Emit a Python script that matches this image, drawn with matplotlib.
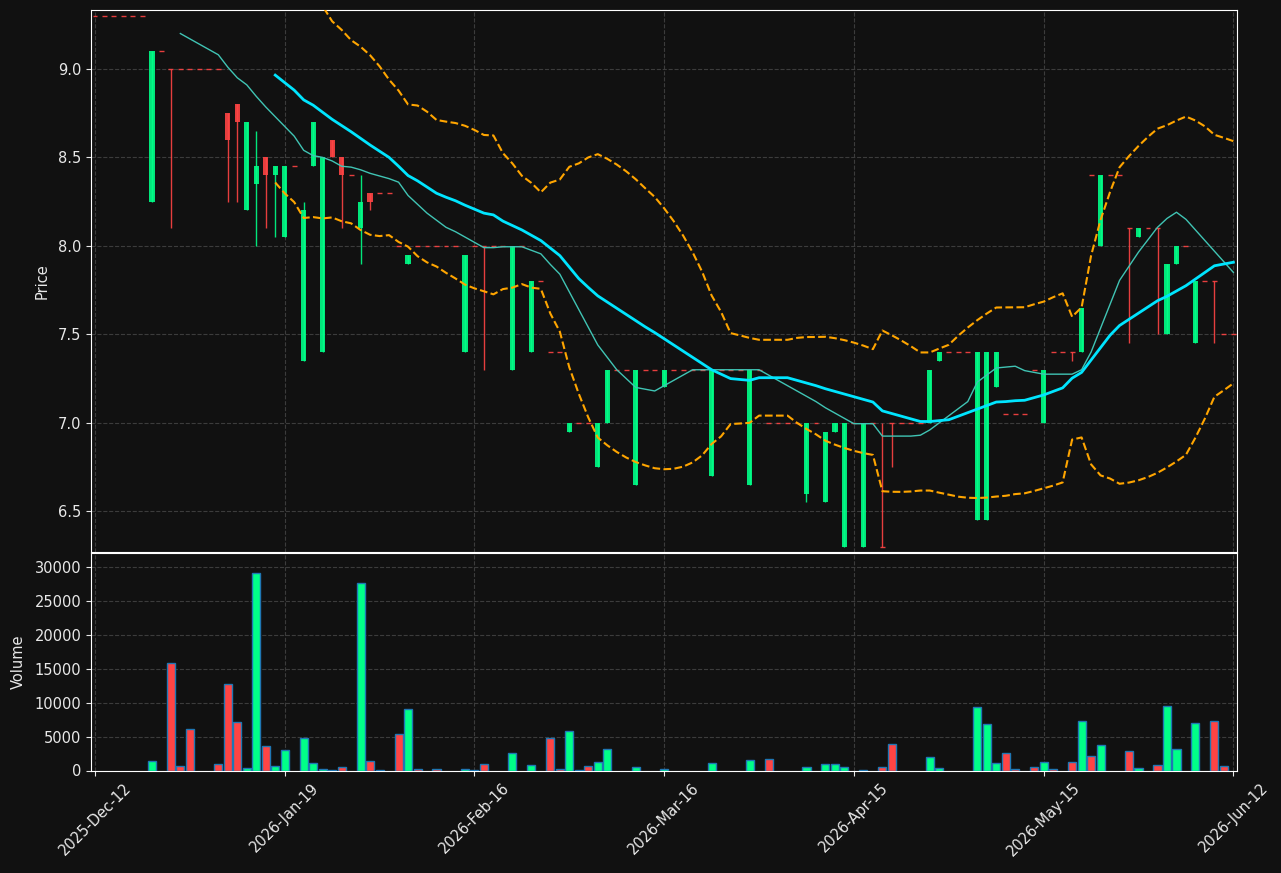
import numpy as np
import pandas as pd
import matplotlib
matplotlib.use("Agg")
import matplotlib.pyplot as plt

# daily OHLC (index = trading day)
opens = [9.30, 9.30, 9.30, 9.30, 9.30, 9.30, 8.25, 9.10, 9.00, 9.00,
         9.00, 9.00, 9.00, 9.00, 8.75, 8.80, 8.20, 8.35, 8.50, 8.40,
         8.05, 8.45, 7.35, 8.45, 7.40, 8.60, 8.50, 8.40, 8.10, 8.30,
         8.30, 8.30, 8.00, 7.90, 8.00, 8.00, 8.00, 8.00, 8.00, 7.40,
         8.00, 8.00, 8.00, 8.00, 7.30, 8.00, 7.40, 7.80, 7.40, 7.40,
         6.95, 7.00, 7.00, 6.75, 7.00, 7.30, 7.30, 6.65, 7.30, 7.30,
         7.20, 7.30, 7.30, 7.30, 7.30, 6.70, 7.30, 7.30, 7.30, 6.65,
         7.30, 7.00, 7.00, 7.00, 7.00, 6.60, 7.00, 6.55, 6.95, 6.30,
         7.00, 6.30, 7.00, 6.30, 7.00, 7.00, 7.00, 7.00, 7.00, 7.35,
         7.40, 7.40, 7.40, 6.45, 6.45, 7.20, 7.05, 7.05, 7.05, 7.30,
         7.00, 7.40, 7.40, 7.40, 7.40, 8.40, 8.00, 8.40, 8.40, 8.10,
         8.05, 8.10, 8.10, 7.50, 7.90, 8.00, 7.45, 7.80, 7.80, 7.50,
         7.50]
highs = [9.30, 9.30, 9.30, 9.30, 9.30, 9.30, 9.10, 9.10, 9.00, 9.00,
         9.00, 9.00, 9.00, 9.00, 8.75, 8.80, 8.70, 8.65, 8.50, 8.45,
         8.45, 8.45, 8.25, 8.70, 8.50, 8.60, 8.50, 8.40, 8.40, 8.30,
         8.30, 8.30, 8.00, 7.95, 8.00, 8.00, 8.00, 8.00, 8.00, 7.95,
         8.00, 8.00, 8.00, 8.00, 8.00, 8.00, 7.80, 7.80, 7.40, 7.40,
         7.00, 7.00, 7.00, 7.00, 7.30, 7.30, 7.30, 7.30, 7.30, 7.30,
         7.30, 7.30, 7.30, 7.30, 7.30, 7.30, 7.30, 7.30, 7.30, 7.30,
         7.30, 7.00, 7.00, 7.00, 7.00, 7.00, 7.00, 6.95, 7.00, 7.00,
         7.00, 7.00, 7.00, 7.00, 7.00, 7.00, 7.00, 7.00, 7.30, 7.40,
         7.40, 7.40, 7.40, 7.40, 7.40, 7.40, 7.05, 7.05, 7.05, 7.30,
         7.30, 7.40, 7.40, 7.40, 7.65, 8.40, 8.40, 8.40, 8.40, 8.10,
         8.10, 8.10, 8.10, 7.90, 8.00, 8.00, 7.80, 7.80, 7.80, 7.50,
         7.50]
lows = [9.30, 9.30, 9.30, 9.30, 9.30, 9.30, 8.25, 9.10, 8.10, 9.00,
        9.00, 9.00, 9.00, 9.00, 8.25, 8.25, 8.20, 8.00, 8.10, 8.05,
        8.05, 8.45, 7.35, 8.45, 7.40, 8.50, 8.10, 8.40, 7.90, 8.20,
        8.30, 8.30, 8.00, 7.90, 8.00, 8.00, 8.00, 8.00, 8.00, 7.40,
        8.00, 7.30, 8.00, 8.00, 7.30, 8.00, 7.40, 7.80, 7.40, 7.40,
        6.95, 7.00, 7.00, 6.75, 7.00, 7.30, 7.30, 6.65, 7.30, 7.30,
        7.20, 7.30, 7.30, 7.30, 7.30, 6.70, 7.30, 7.30, 7.30, 6.65,
        7.30, 7.00, 7.00, 7.00, 7.00, 6.55, 7.00, 6.55, 6.95, 6.30,
        7.00, 6.30, 7.00, 6.30, 6.75, 7.00, 7.00, 7.00, 7.00, 7.35,
        7.40, 7.40, 7.40, 6.45, 6.45, 7.20, 7.05, 7.05, 7.05, 7.30,
        7.00, 7.40, 7.40, 7.35, 7.40, 8.40, 8.00, 8.40, 8.40, 7.45,
        8.05, 8.10, 7.50, 7.50, 7.90, 8.00, 7.45, 7.80, 7.45, 7.50,
        7.50]
closes = [9.30, 9.30, 9.30, 9.30, 9.30, 9.30, 9.10, 9.10, 9.00, 9.00,
          9.00, 9.00, 9.00, 9.00, 8.60, 8.70, 8.70, 8.45, 8.40, 8.45,
          8.45, 8.45, 8.20, 8.70, 8.50, 8.50, 8.40, 8.40, 8.25, 8.25,
          8.30, 8.30, 8.00, 7.95, 8.00, 8.00, 8.00, 8.00, 8.00, 7.95,
          8.00, 8.00, 8.00, 8.00, 8.00, 8.00, 7.80, 7.80, 7.40, 7.40,
          7.00, 7.00, 7.00, 7.00, 7.30, 7.30, 7.30, 7.30, 7.30, 7.30,
          7.30, 7.30, 7.30, 7.30, 7.30, 7.30, 7.30, 7.30, 7.30, 7.30,
          7.30, 7.00, 7.00, 7.00, 7.00, 7.00, 7.00, 6.95, 7.00, 7.00,
          7.00, 7.00, 7.00, 6.30, 7.00, 7.00, 7.00, 7.00, 7.30, 7.40,
          7.40, 7.40, 7.40, 7.40, 7.40, 7.40, 7.05, 7.05, 7.05, 7.30,
          7.30, 7.40, 7.40, 7.40, 7.65, 8.40, 8.40, 8.40, 8.40, 8.10,
          8.10, 8.10, 8.10, 7.90, 8.00, 8.00, 7.80, 7.80, 7.80, 7.50,
          7.50]
volumes = [0, 0, 0, 0, 0, 0, 1400, 0, 15900, 650,
           6100, 0, 0, 950, 12800, 7150, 350, 29100, 3600, 650,
           3000, 0, 4800, 1100, 200, 100, 500, 0, 27600, 1400,
           80, 0, 5400, 9100, 200, 0, 200, 0, 0, 200,
           80, 950, 0, 0, 2600, 0, 750, 0, 4800, 200,
           5850, 100, 650, 1250, 3150, 0, 0, 500, 0, 0,
           200, 0, 0, 0, 0, 1100, 0, 0, 0, 1550,
           0, 1700, 0, 0, 0, 500, 0, 950, 950, 500,
           0, 80, 0, 500, 3900, 0, 0, 0, 2000, 350,
           0, 0, 0, 9400, 6850, 1100, 2550, 200, 0, 500,
           1250, 200, 0, 1250, 7300, 2150, 3750, 0, 0, 2850,
           350, 0, 800, 9550, 3150, 0, 7000, 0, 7300, 640,
           0]

tick_pos = [0, 20, 40, 60, 80, 100, 120]
tick_labels = ["2025-Dec-12", "2026-Jan-19", "2026-Feb-16", "2026-Mar-16",
               "2026-Apr-15", "2026-May-15", "2026-Jun-12"]

bg = "#111111"
up_col = "#00ff88"
down_col = "#ff4444"
txt = "#e8e8e8"
grid_col = "#3c3c3c"

plt.rcParams["font.size"] = 10.5

o = np.array(opens)
h = np.array(highs)
l = np.array(lows)
c = np.array(closes)
v = np.array(volumes)
x = np.arange(len(c))

close_s = pd.Series(c)
ma10 = close_s.rolling(10).mean()
ma20 = close_s.rolling(20).mean()
sd20 = close_s.rolling(20).std(ddof=0)
bb_up = ma20 + 2 * sd20
bb_lo = ma20 - 2 * sd20

fig = plt.figure(figsize=(12.81, 8.73), dpi=100, facecolor=bg)
ax = fig.add_axes([91 / 1281, 1 - 552 / 873, 1146 / 1281, 542 / 873])
axv = fig.add_axes([91 / 1281, 1 - 770.5 / 873, 1146 / 1281, 217.5 / 873], sharex=ax)

is_up = c > o
is_flat = c == o
cols = np.where(is_up, up_col, down_col)

# wicks
ax.vlines(x, l, h, colors=cols, linewidth=1, alpha=0.9, zorder=2)
# bodies
nf = ~is_flat
ax.bar(x[nf], np.abs(c - o)[nf], bottom=np.minimum(o, c)[nf], width=0.55,
       color=cols[nf], alpha=0.9, linewidth=0, zorder=3)
# doji / no-trade days
ax.hlines(c[is_flat], x[is_flat] - 0.26, x[is_flat] + 0.26, colors=down_col,
          linewidth=1, alpha=0.9, zorder=3)

ax.plot(x, ma10, color="#40c4b4", linewidth=1, zorder=4)
ax.plot(x, ma20, color="#00e5ff", linewidth=2, zorder=4)
ax.plot(x, bb_up, color="#ffa500", linewidth=1.5, linestyle="--", zorder=4)
ax.plot(x, bb_lo, color="#ffa500", linewidth=1.5, linestyle="--", zorder=4)

vm = v > 0
axv.bar(x[vm], v[vm], width=0.85, color=cols[vm], edgecolor="#1f77b4",
        linewidth=1, zorder=3)

for a in (ax, axv):
    a.set_facecolor(bg)
    a.grid(True, color=grid_col, linestyle="--", linewidth=0.8)
    a.set_axisbelow(True)
    for s in a.spines.values():
        s.set_color("white")
    a.tick_params(colors=txt, which="both")

ax.set_xlim(-0.42, 120.38)
ax.set_ylim(6.27, 9.333)
ax.set_yticks([6.5, 7.0, 7.5, 8.0, 8.5, 9.0])
ax.set_yticklabels(["6.5", "7.0", "7.5", "8.0", "8.5", "9.0"])
ax.tick_params(axis="x", length=0, labelbottom=False)
ax.set_ylabel("Price", color=txt, labelpad=6)

axv.set_ylim(0, 32100)
axv.set_yticks([0, 5000, 10000, 15000, 20000, 25000, 30000])
axv.set_xticks(tick_pos)
axv.set_xticklabels(tick_labels, rotation=45, ha="center")
axv.set_ylabel("Volume", color=txt, labelpad=6)

fig.savefig("out.png", dpi=100, facecolor=bg)
